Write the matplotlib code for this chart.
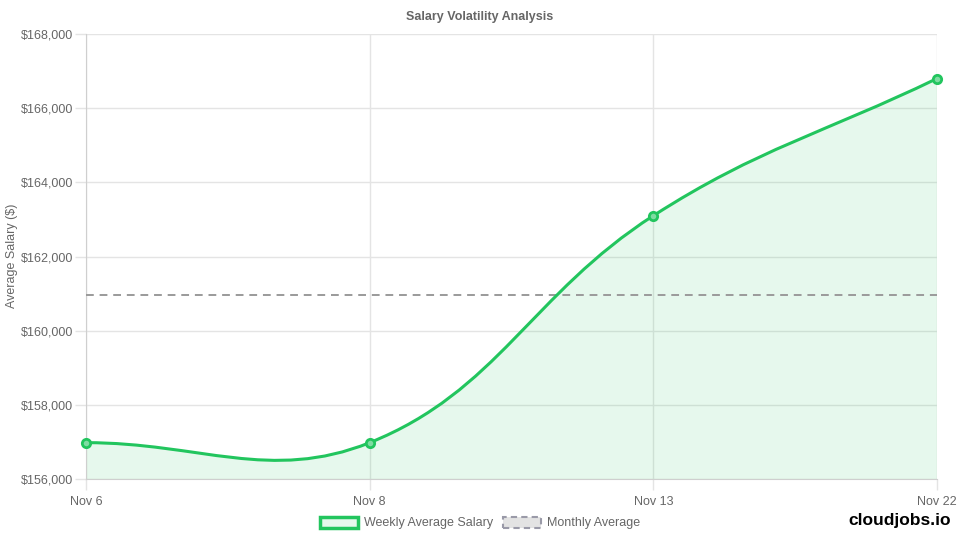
import matplotlib.pyplot as plt
import numpy as np
from matplotlib.path import Path
from matplotlib.patches import PathPatch, Patch
from matplotlib.ticker import FuncFormatter

plt.rcParams["font.family"] = ["Liberation Sans", "DejaVu Sans"]

labels = ["Nov 6", "Nov 8", "Nov 13", "Nov 22"]
weekly_salary = [156980, 156980, 163100, 166800]
monthly_average = 160960

GREEN = "#22c55e"
FILL = (34 / 255, 197 / 255, 94 / 255, 0.11)
GRID = "#e4e4e4"
TEXT = "#666666"


def spline_path(xs, ys, tension=0.4, sx=284.0, sy=0.0371):
    """Chart.js style bezier (tension) computed in pixel-like space"""
    px = np.asarray(xs, float) * sx
    py = np.asarray(ys, float) * sy
    n = len(px)
    cp_prev, cp_next = [], []
    for i in range(n):
        p0 = i - 1 if i > 0 else i
        p2 = i + 1 if i < n - 1 else i
        d01 = np.hypot(px[i] - px[p0], py[i] - py[p0])
        d12 = np.hypot(px[p2] - px[i], py[p2] - py[i])
        tot = d01 + d12
        s01 = d01 / tot if tot else 0
        s12 = d12 / tot if tot else 0
        fa, fb = tension * s01, tension * s12
        dx, dy = px[p2] - px[p0], py[p2] - py[p0]
        cp_prev.append((px[i] - fa * dx, py[i] - fa * dy))
        cp_next.append((px[i] + fb * dx, py[i] + fb * dy))
    verts = [(px[0], py[0])]
    codes = [Path.MOVETO]
    for i in range(n - 1):
        verts += [cp_next[i], cp_prev[i + 1], (px[i + 1], py[i + 1])]
        codes += [Path.CURVE4] * 3
    verts = [(vx / sx, vy / sy) for vx, vy in verts]
    return verts, codes


fig = plt.figure(figsize=(9.6, 5.4), dpi=100)
ax = fig.add_axes([86 / 960, 1 - 479 / 540, (937 - 86) / 960, (479 - 34) / 540])

x = np.arange(len(labels))
verts, codes = spline_path(x, weekly_salary)

# area fill under the curve down to the axis bottom
ymin = 156000
fill_verts = verts + [(x[-1], ymin), (x[0], ymin), verts[0]]
fill_codes = codes + [Path.LINETO, Path.LINETO, Path.LINETO]
ax.add_patch(PathPatch(Path(fill_verts, fill_codes), facecolor=FILL, edgecolor="none", zorder=2))
ax.add_patch(PathPatch(Path(verts, codes), facecolor="none", edgecolor=GREEN, linewidth=2.2, zorder=4))
ax.plot(x, weekly_salary, linestyle="none", marker="o", markersize=6,
        markerfacecolor="#7fdca2", markeredgecolor=GREEN, markeredgewidth=2, zorder=5, clip_on=False)

ax.axhline(monthly_average, color="#9a9a9a", linestyle=(0, (4, 3)), linewidth=1.4, zorder=3)

ax.set_xlim(0, len(labels) - 1)
ax.set_ylim(156000, 168000)
ax.set_xticks(x)
ax.set_xticklabels(labels)
ax.set_yticks(np.arange(156000, 168001, 2000))
ax.yaxis.set_major_formatter(FuncFormatter(lambda v, p: f"${v:,.0f}"))
ax.grid(True, color=GRID, linewidth=1)
ax.set_axisbelow(True)
for s in ax.spines.values():
    s.set_visible(False)
ax.spines["left"].set_visible(True)
ax.spines["bottom"].set_visible(True)
ax.spines["left"].set_color("#cfcfcf")
ax.spines["bottom"].set_color("#cfcfcf")
ax.tick_params(axis="both", colors=GRID, labelcolor=TEXT, labelsize=9, length=8, width=1, pad=1)
ax.tick_params(axis="x", pad=4)

fig.text(12 / 960, 1 - 256 / 540, "Average Salary ($)", rotation=90, ha="center", va="center",
         color=TEXT, fontsize=9)
fig.text(480 / 960, 1 - 17 / 540, "Salary Volatility Analysis", ha="center", va="center",
         fontsize=9, fontweight="bold", color=TEXT)

handles = [
    Patch(facecolor=FILL, edgecolor=GREEN, linewidth=2.5, label="Weekly Average Salary"),
    Patch(facecolor="#e3e3e3", edgecolor="#9a9aa8", linewidth=1.5, linestyle=(0, (3, 2)), label="Monthly Average"),
]
fig.legend(handles=handles, loc="center", bbox_to_anchor=(480 / 960, 1 - 523 / 540), ncol=2, frameon=False,
           fontsize=9, labelcolor=TEXT, handlelength=3.0, handleheight=1.0, handletextpad=0.5, columnspacing=0.8)

fig.text(900 / 960, 1 - 521 / 540, "cloudjobs.io", ha="center", va="center",
         fontsize=12.5, fontweight="bold", color="black")

fig.savefig("out.png", dpi=100)
